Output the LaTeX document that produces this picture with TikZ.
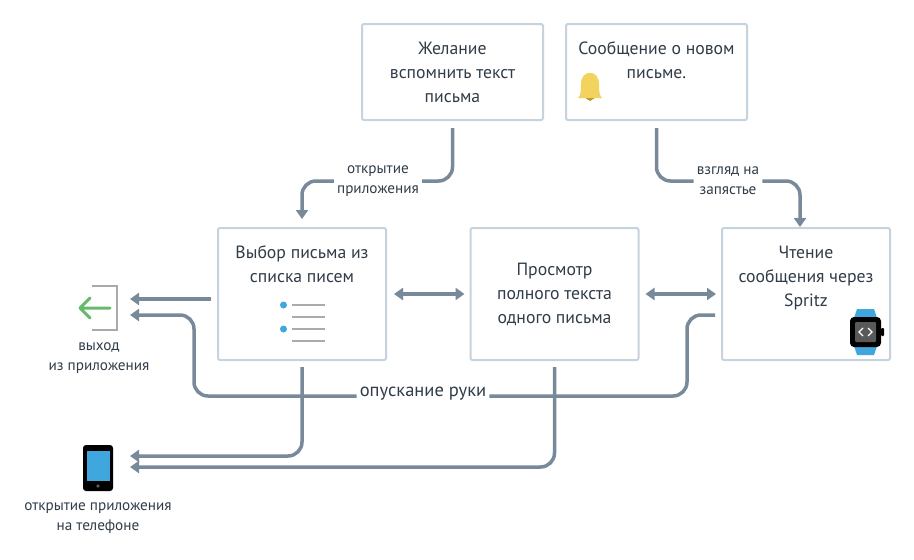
\documentclass[tikz,border=0pt]{standalone}
\usepackage{fontspec}
\setmainfont{PT Sans}
\usetikzlibrary{arrows.meta}
\usetikzlibrary{calc}
\usetikzlibrary{positioning}

\begin{document}
\begin{tikzpicture}[x=1pt, y=-1pt,
    box/.style={draw=boxline, line width=2pt, rounded corners=2pt, fill=white, align=center, text=ink, inner sep=0,
      minimum width=#1, minimum height=96pt, font=\fontsize{17.7}{24}\selectfont},
    box/.default=181pt,
    caption/.style={align=center, text=ink, inner sep=0, inner xsep=3pt, font=\fontsize{15.2}{20}\selectfont},
    flow/.style={draw=flowline, line width=3.5pt, rounded corners=14pt, >={Triangle[length=9pt,width=12pt]}}]
        % Colors
        \definecolor{boxline}{RGB}{197,211,223}
        \definecolor{flowline}{RGB}{120,137,154}
        \definecolor{ink}{RGB}{48,60,72}
        \definecolor{sky}{RGB}{64,166,222}
        \definecolor{greyline}{RGB}{170,170,170}
        \definecolor{bell}{RGB}{242,211,94}
        \definecolor{bellclap}{RGB}{184,150,46}
        \definecolor{leave}{RGB}{102,187,106}

        \useasboundingbox (0,0) rectangle (914,560);

        % Boxes
        \node[box] (wish) at (452.5,72) {Желание\\вспомнить текст\\письма};
        \node[box] (note) at (656.5,72) {Сообщение о новом\hspace{4pt}\\письме.\\\mbox{}};
        \node[box=168pt, minimum height=132pt] (pick) at (302,294) {Выбор письма из\\списка писем\\[36pt]\mbox{}};
        \node[box=168pt, minimum height=132pt] (view) at (554.5,294) {Просмотр\\полного текста\\одного письма};
        \node[box=168pt, minimum height=132pt] (read) at (806,294) {Чтение\\сообщения через\\Spritz\\[12pt]\mbox{}};

        % Labels
        \node[caption] (open) at (378,181) {открытие\\приложения};
        \node[caption] (glance) at (728,181) {взгляд на\\запястье};
        \node[inner sep=3pt, text=ink, text height=5pt, text depth=5pt, font=\fontsize{18.5}{20}\selectfont] (drop) at (423,396) {опускание руки};
        \node[caption] (exit) at (99,358) {выход\\из приложения};
        \node[caption] (phone) at (98,518) {открытие приложения\\на телефоне};

        \coordinate (exit_a) at (130,299);
        \coordinate (exit_b) at (130,315);
        \coordinate (phone_a) at (130,456);
        \coordinate (phone_b) at (130,467);
        \coordinate (drop_l) at (194,396);
        \coordinate (drop_r) at (687,396);

        % Arrows
        \draw[flow, shorten <=7pt] (wish.south) -- (wish.south |- open.east) -- (open.east);
        \draw[flow, ->, shorten >=8pt] (open.west) -| (pick.north);
        \draw[flow, shorten <=7pt] (note.south) -- (note.south |- glance.west) -- (glance.west);
        \draw[flow, ->] (glance.east) -| ([xshift=-6pt]read.north);
        \draw[flow, <->, shorten <=7pt, shorten >=5pt] (pick.east) -- (view.west);
        \draw[flow, <->, shorten <=6pt, shorten >=5pt] (view.east) -- (read.west);
        \draw[flow, ->, shorten <=6pt] ([yshift=-5pt]pick.west) -- (exit_a);
        \draw[flow, ->] (drop.west) -- (drop_l) |- (exit_b);
        \draw[flow, shorten <=6pt] ([yshift=-21pt]read.west) -| (drop_r) -- (drop.east);
        \draw[flow, ->, shorten <=6pt] (pick.south) |- (phone_a);
        \draw[flow, ->, shorten <=6pt] (view.south) |- (phone_b);

        % List icon
        \fill[sky] (283.5,305) circle (3.5);
        \fill[sky] (283.5,329) circle (3.5);
        \foreach \y in {305,317,329,341}
          \draw[greyline, line width=1.5pt] (292,\y) -- (325,\y);

        % Bell
        \fill[bellclap] (586,97) rectangle (594,99) (587,99) -- (593,99) -- (590,101) -- cycle;
        \fill[bell] (578,98) .. controls (581,95) and (581,90) .. (581,84)
          .. controls (581,69) and (599,69) .. (599,84)
          .. controls (599,90) and (599,95) .. (602,98) -- cycle;

        % Watch
        \fill[sky] (857,309) -- (874,309) -- (877,318) -- (877,346) -- (874,355) -- (857,355) -- (854,346) -- (854,318) -- cycle;
        \fill[black, rounded corners=1pt] (881,328) rectangle (884,336);
        \fill[black, rounded corners=4pt] (850,317) rectangle (881,347);
        \fill[black!65, rounded corners=1pt] (855,322) rectangle (876,342);
        \draw[white, line width=1.3pt] (863,328) -- (859,332) -- (863,336) (868,328) -- (872,332) -- (868,336);

        % Exit icon
        \draw[greyline, line width=1.3pt] (92,286) -- (117,286) -- (117,330) -- (92,330);
        \draw[leave, line width=3pt, line cap=round, line join=round] (110,308) -- (80,308) (90,298) -- (80,308) -- (90,318);

        % Phone icon
        \fill[black, rounded corners=3pt] (83,445) rectangle (113,491);
        \fill[sky] (86.5,451) rectangle (110,481);
        \fill[black!65] (98,486) circle (1.8);
      \end{tikzpicture}
\end{document}
